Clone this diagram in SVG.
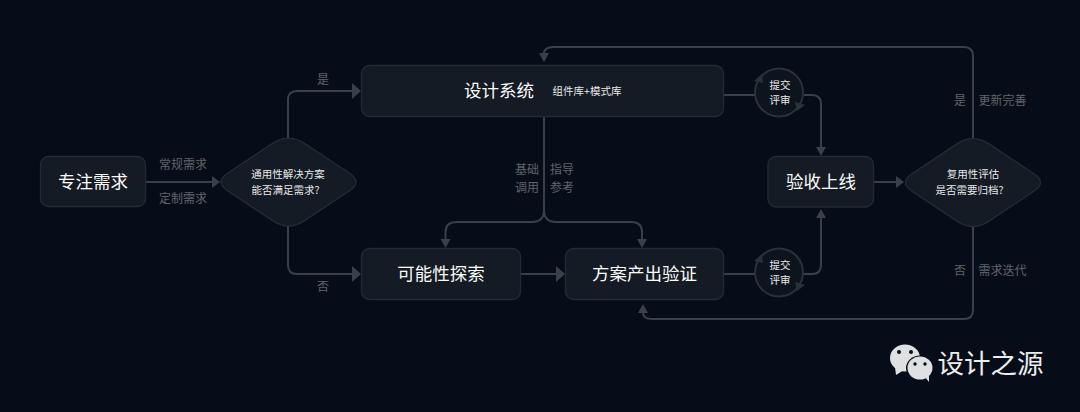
<svg xmlns="http://www.w3.org/2000/svg" width="1080" height="412" viewBox="0 0 1080 412">
<style>
text{font-family:"Noto Sans CJK SC","Noto Sans",sans-serif;text-anchor:middle}
.n{fill:#151b24;stroke:#252b34;stroke-width:1.300}
.c{fill:none;stroke:#3a404a;stroke-width:2}
.h{fill:#3a404a;stroke:none}
.r{fill:#2b313a;stroke:none}
.o{fill:#0e141d;stroke:#2b313a;stroke-width:2}
.t{fill:#fbfbfc;font-size:17.500px}
.s{fill:#e8e9ea;font-size:10.500px}
.l{fill:#5f646b;font-size:12px}
.bg{fill:#070d18}
</style>
<rect class="bg" width="1080" height="412"/>
<g id="connectors">
<path class="c" d="M146 182H212"/><path class="h" d="M212 176l8 6-8 6z"/>
<path class="c" d="M288 138V100q0-9 9-9H353"/><path class="h" d="M352 83l9 8-9 8z"/>
<path class="c" d="M288 226V265q0 9 9 9H353"/><path class="h" d="M352 266l9 8-9 8z"/>
<path class="c" d="M544 116V210q0 12-12 12H457q-11.500 0-11.500 10V240"/><path class="h" d="M440.500 239h10l-5 9z"/>
<path class="c" d="M544 210q0 12 12 12H631q11 0 11 10V240"/><path class="h" d="M637 239h10l-5 9z"/>
<path class="c" d="M520 274H558"/><path class="h" d="M556 266l9 8-9 8z"/>
<path class="c" d="M723 95H755"/><path class="c" d="M804 95H812q9 0 9 9V148"/><path class="h" d="M816 147h10l-5 9z"/>
<path class="c" d="M723 274H755"/><path class="c" d="M804 274H812q9 0 9-9V217"/><path class="h" d="M816 218h10l-5-9z"/>
<path class="c" d="M873 182H897"/><path class="h" d="M896 176l8 6-8 6z"/>
<path class="c" d="M973 140V56q0-9-9-9H553q-9 0-9 7"/><path class="h" d="M539 53h10l-5 9z"/>
<path class="c" d="M973 226V310q0 9-9 9H652q-9 0-9-7"/><path class="h" d="M638 313h10l-5-9z"/>
</g>
<g id="node-focus"><rect class="n" x="40.500" y="156.500" width="105" height="50" rx="8"/><text class="t" x="93" y="188">专注需求</text></g>
<g id="node-decision-1"><path class="n" d="M272.500 143.400Q288.500 132.700 304.500 143.400L349.500 173.300Q362.500 182 349.500 190.700L304.500 220.600Q288.500 231.300 272.500 220.600L227.500 190.700Q214.500 182 227.500 173.300Z"/><text class="s" x="288" y="178">通用性解决方案</text><text class="s" x="285.500" y="194">能否满足需求?</text></g>
<g id="node-system"><rect class="n" x="361.500" y="65.500" width="362" height="51" rx="8"/><text class="t" x="499" y="97">设计系统</text><text class="s" x="587" y="95">组件库+模式库</text></g>
<g id="node-explore"><rect class="n" x="361.500" y="248.500" width="159" height="51" rx="8"/><text class="t" x="441" y="280">可能性探索</text></g>
<g id="node-output"><rect class="n" x="565.500" y="248.500" width="158" height="51" rx="8"/><text class="t" x="644.500" y="280">方案产出验证</text></g>
<g id="node-review-1"><circle class="o" cx="779" cy="92.500" r="24"/><path class="r" d="M754 81l8-7 1 9zM805 105l-8 6-2-9z"/><text class="s" x="780" y="89">提交</text><text class="s" x="780" y="104">评审</text></g>
<g id="node-review-2"><circle class="o" cx="779" cy="272.500" r="24"/><path class="r" d="M754 261l8-7 1 9zM805 285l-8 6-2-9z"/><text class="s" x="780" y="269">提交</text><text class="s" x="780" y="284">评审</text></g>
<g id="node-launch"><rect class="n" x="768" y="156.500" width="105.500" height="50.500" rx="8"/><text class="t" x="821" y="188">验收上线</text></g>
<g id="node-decision-2"><path class="n" d="M957 143.900Q973 133.200 989 143.900L1034 173.800Q1047 182.500 1034 191.200L989 221.100Q973 231.800 957 221.100L912 191.200Q899 182.500 912 173.800Z"/><text class="s" x="973" y="178">复用性评估</text><text class="s" x="969.500" y="194">是否需要归档?</text></g>
<g id="labels">
<text class="l" x="183" y="169">常规需求</text><text class="l" x="183" y="203">定制需求</text>
<text class="l" x="323" y="84">是</text><text class="l" x="323" y="291">否</text>
<text class="l" x="527" y="174">基础</text><text class="l" x="527" y="192">调用</text>
<text class="l" x="562" y="174">指导</text><text class="l" x="562" y="192">参考</text>
<text class="l" x="960" y="105">是</text><text class="l" x="1002.500" y="105">更新完善</text>
<text class="l" x="960" y="275">否</text><text class="l" x="1002.500" y="275">需求迭代</text>
</g>
<g id="watermark">
<ellipse cx="905" cy="358" rx="15" ry="13.500" fill="#dfe0e1"/><path d="M895 367l1 8 8-5z" fill="#dfe0e1"/>
<ellipse cx="920" cy="368" rx="14" ry="12.500" fill="#070d18"/><ellipse cx="920" cy="368" rx="12.500" ry="11.500" fill="#dfe0e1"/><path d="M925 377l4 5 0-7z" fill="#dfe0e1"/>
<circle cx="899" cy="352" r="2" fill="#070d18"/><circle cx="911" cy="352" r="2" fill="#070d18"/><circle cx="915" cy="364" r="1.700" fill="#070d18"/><circle cx="925" cy="364" r="1.700" fill="#070d18"/>
<text x="990.500" y="373" font-size="26.500" fill="#eceded">设计之源</text>
</g>
</svg>
